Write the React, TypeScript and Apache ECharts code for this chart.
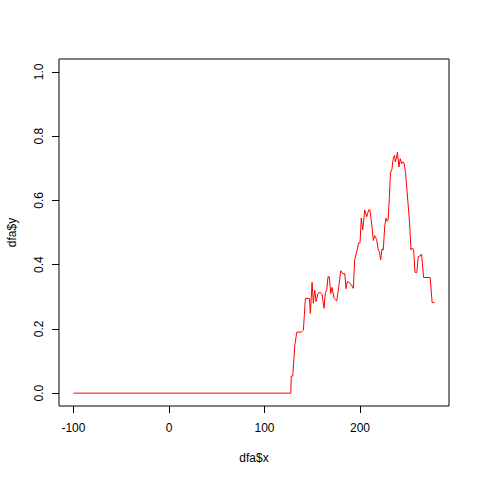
import React, { useEffect, useRef } from "react";
import * as echarts from "echarts";

const xValues = [
  -100, 127.5, 128, 129.6, 131.7, 133.8, 138.6, 140.7, 142.8, 147, 148, 149.8, 151.1, 152.6, 154, 156,
  158.2, 160.2, 162.3, 163.7, 165.2, 166.5, 167.9, 169.3, 170.7, 172.8, 175.6, 177.7, 179.8, 181.9,
  184, 185.3, 186.7, 188.8, 190.9, 193, 194.4, 196.5, 198.6, 200, 201.3, 202.8, 204.9, 207, 209,
  210.4, 212.5, 213.9, 215.3, 217.4, 218.8, 220.2, 221.6, 223, 224.3, 225.8, 227.1, 228.5, 229.4,
  230.6, 231.9, 233.3, 234.7, 236.1, 236.9, 238.3, 239.1, 240.7, 242.1, 243.5, 244.9, 246.3, 247.7,
  249.1, 250.4, 251.9, 253.3, 254.6, 256.1, 257.5, 259.5, 260.9, 263, 264.4, 266.5, 273.4, 275.5, 278,
];
const yValues = [
  0, 0, 0.053, 0.053, 0.149, 0.19, 0.19, 0.196, 0.295, 0.295, 0.248, 0.345, 0.28, 0.32, 0.285, 0.31,
  0.314, 0.307, 0.264, 0.313, 0.322, 0.362, 0.362, 0.31, 0.329, 0.295, 0.287, 0.33, 0.381, 0.372,
  0.372, 0.325, 0.347, 0.345, 0.337, 0.326, 0.415, 0.44, 0.468, 0.468, 0.545, 0.508, 0.57, 0.549, 0.57,
  0.57, 0.518, 0.475, 0.49, 0.478, 0.449, 0.44, 0.415, 0.449, 0.445, 0.518, 0.545, 0.535, 0.54,
  0.605, 0.688, 0.695, 0.73, 0.74, 0.72, 0.735, 0.75, 0.704, 0.73, 0.714, 0.72, 0.714, 0.683,
  0.632, 0.585, 0.528, 0.446, 0.452, 0.446, 0.376, 0.376, 0.425, 0.427, 0.433, 0.36, 0.36, 0.281, 0.283,
];
const xTicks = [-100, 0, 100, 200];
const yTicks = [0, 0.2, 0.4, 0.6, 0.8, 1.0];

const FONT = "'Liberation Sans', Arial, Helvetica, sans-serif";

export default function App() {
  const ref = useRef<HTMLDivElement>(null);
  useEffect(() => {
    if (!ref.current) return;
    const chart = echarts.init(ref.current, undefined, { renderer: "svg" });
    const data = xValues.map((x, i) => [x, yValues[i]]);
    chart.setOption({
      animation: false,
      backgroundColor: "#ffffff",
      grid: {
        left: 59,
        right: 31,
        top: 59,
        bottom: 74,
        show: true,
        borderColor: "#000",
        borderWidth: 1,
        backgroundColor: "transparent",
      },
      xAxis: {
        type: "value",
        min: -115.12,
        max: 293.12,
        splitLine: { show: false },
        axisLine: { show: false, onZero: false },
        axisTick: {
          show: true,
          inside: false,
          length: 7,
          customValues: xTicks,
          lineStyle: { color: "#000", width: 1 },
        },
        axisLabel: {
          customValues: xTicks,
          margin: 16,
          color: "#000",
          fontSize: 12,
          fontFamily: FONT,
          formatter: (v: number) => String(v),
        },
      },
      yAxis: {
        type: "value",
        min: -0.04,
        max: 1.04,
        splitLine: { show: false },
        axisLine: { show: false, onZero: false },
        axisTick: {
          show: true,
          inside: false,
          length: 7,
          customValues: yTicks,
          lineStyle: { color: "#000", width: 1 },
        },
        axisLabel: {
          customValues: yTicks,
          margin: 14,
          rotate: 90,
          color: "#000",
          fontSize: 12,
          fontFamily: FONT,
          formatter: (v: number) => v.toFixed(1),
        },
      },
      graphic: [
        {
          type: "text",
          x: 254,
          y: 458,
          style: {
            text: "dfa$x",
            fill: "#000",
            font: `12px ${FONT}`,
            textAlign: "center",
            textVerticalAlign: "middle",
          },
        },
        {
          type: "text",
          x: 12,
          y: 232.5,
          rotation: Math.PI / 2,
          style: {
            text: "dfa$y",
            fill: "#000",
            font: `12px ${FONT}`,
            textAlign: "center",
            textVerticalAlign: "middle",
          },
        },
      ],
      series: [
        {
          type: "line",
          data,
          showSymbol: false,
          symbol: "none",
          lineStyle: { color: "#ff0000", width: 1 },
          itemStyle: { color: "#ff0000" },
        },
      ],
    });
    return () => chart.dispose();
  }, []);
  return (
    <div
      ref={ref}
      style={{ position: "fixed", left: 0, top: 0, width: 480, height: 480 }}
    />
  );
}
